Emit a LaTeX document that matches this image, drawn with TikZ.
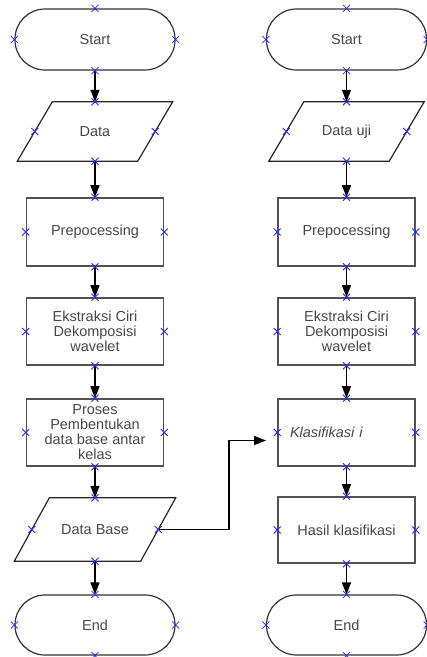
\documentclass[tikz,border=0pt]{standalone}
\usepackage{fontspec}
\setmainfont{Liberation Sans}
\usetikzlibrary{arrows.meta}
\begin{document}
\begin{tikzpicture}[x=1pt,y=-1pt,
  lbl/.style={text=black!72, font=\fontsize{14.5}{15}\selectfont, align=center},
  term/.style={lbl, draw=black!80, line width=1.2pt, rounded corners=30pt, minimum width=160pt, minimum height=61pt, inner sep=0pt},
  procbox/.style={lbl, draw=black!68, line width=1.6pt, minimum width=137pt, minimum height=67pt, inner sep=0pt},
  iobox/.style={lbl, inner sep=0pt, minimum width=120pt, minimum height=59pt},
  ioline/.style={draw=black!85, line width=1.2pt},
  conn/.style={draw=black, line width=1.4pt, -{Triangle[length=12pt,width=9pt]}},
  cx/.pic={\draw[blue!85!white, line width=0.8pt] (-3.5,-3.5)--(3.5,3.5) (-3.5,3.5)--(3.5,-3.5);}
]
\useasboundingbox (0,0) rectangle (427,657);

% left column
\node[term] (s1) at (95,39.5) {Start};
\node[iobox] (d1) at (95,131.5) {Data};
\node[procbox, minimum height=68pt] (p1) at (95,232) {Prepocessing};
\node[procbox] (e1) at (95,331.5) {Ekstraksi Ciri\\Dekomposisi\\wavelet};
\node[procbox] (pr) at (95,432.5) {Proses\\Pembentukan\\data base antar\\kelas};
\node[iobox, minimum width=126pt, minimum height=63pt] (db) at (95,529.5) {Data Base};
\node[term, minimum height=60pt] (en1) at (95,625) {End};

% right column
\node[term] (s2) at (346.5,39.5) {Start};
\node[iobox] (d2) at (346.5,131.5) {Data uji};
\node[procbox, minimum height=68pt] (p2) at (346.5,232) {Prepocessing};
\node[procbox] (e2) at (346.5,331.5) {Ekstraksi Ciri\\Dekomposisi\\wavelet};
\node[procbox, align=left, text width=113pt, inner xsep=12pt] (k) at (346.5,432.5) {\itshape Klasifikasi i};
\node[procbox, minimum height=66pt] (h) at (346.5,530) {Hasil klasifikasi};
\node[term, minimum height=60pt] (en2) at (346.5,625) {End};

% parallelogram outlines
\foreach \n in {d1,d2,db}{
  \draw[ioline] ([xshift=17.5pt]\n.north west) -- ([xshift=17.5pt]\n.north east)
    -- ([xshift=-17.5pt]\n.south east) -- ([xshift=-17.5pt]\n.south west) -- cycle;
}

% connectors
\draw[conn] (s1.south) -- (d1.north);
\draw[conn] (d1.south) -- (p1.north);
\draw[conn] (p1.south) -- (e1.north);
\draw[conn] (e1.south) -- (pr.north);
\draw[conn] (pr.south) -- (db.north);
\draw[conn] (db.south) -- (en1.north);

\draw[conn] (s2.south) -- (d2.north);
\draw[conn] (d2.south) -- (p2.north);
\draw[conn] (p2.south) -- (e2.north);
\draw[conn] (e2.south) -- (k.north);
\draw[conn] (k.south) -- (h.north);
\draw[conn] (h.south) -- (en2.north);

\coordinate (bend) at (229,529.5);
\coordinate (kin) at (266,440.5);
\draw[conn, line width=1.1pt] (db.east) -- (bend) |- (kin);

% connection-point marks
\foreach \n in {s1,d1,p1,e1,pr,db,en1,s2,d2,p2,e2,k,h,en2}{
  \foreach \a in {north,south,east,west}{
    \pic at (\n.\a) {cx};
  }
}
\end{tikzpicture}
\end{document}
